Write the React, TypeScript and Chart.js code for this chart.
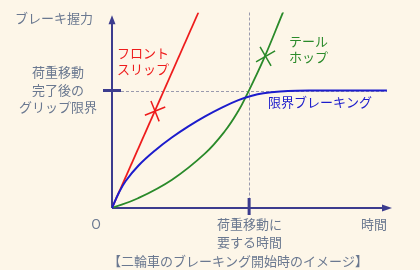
import React, { useEffect, useRef } from "react";
import { Chart, registerables } from "chart.js";

Chart.register(...registerables);

// Time axis: 1 = time required for load transfer. Grip axis: 1 = grip limit after load transfer.
const frontSlipX = [0, 0.63];
const frontSlipY = [0, 1.664];
const tailHopX = [0, 0.19, 0.438, 0.679, 0.825, 0.92, 0.978, 1.102, 1.241, 1.263];
const tailHopY = [0, 0.083, 0.241, 0.465, 0.657, 0.823, 0.951, 1.256, 1.648, 1.712];
const limitX = [0, 0.05, 0.1, 0.192, 0.314, 0.436, 0.557, 0.679, 0.801, 0.922, 1.02, 1.104, 1.226, 1.348, 1.5, 2.005];
const limitY = [0, 0.13, 0.23, 0.36, 0.49, 0.6, 0.695, 0.78, 0.855, 0.918, 0.955, 0.976, 0.992, 0.999, 1.0, 1.0];
const frontMarker = { x: 0.314, y: 0.824 };
const tailMarker = { x: 1.12, y: 1.29 };
const xTickValue = 1;
const yTickValue = 1;
const xMax = 2.042;
const yMax = 1.664;
const yAxisTop = 1.64;

const yAxisTitle = "ブレーキ握力";
const xAxisTitle = "時間";
const originLabel = "O";
const yTickLabel = ["荷重移動", "完了後の", "グリップ限界"];
const xTickLabel = ["荷重移動に", "要する時間"];
const frontLabel = ["フロント", "スリップ"];
const tailLabel = ["テール", "ホップ"];
const limitLabel = "限界ブレーキング";
const title = "【二輪車のブレーキング開始時のイメージ】";

const AXIS = "#3c3c8e";
const LABEL = "#6a7890";
const RED = "#ee1c1c";
const GREEN = "#2a8a2a";
const BLUE = "#1c1ccc";
const BG = "#fdf6e8";
const FONT = "13px 'Noto Sans CJK JP', 'Noto Sans', sans-serif";

const toPts = (xs: number[], ys: number[]) => xs.map((x, i) => ({ x, y: ys[i] }));

const decorPlugin = {
  id: "decor",
  beforeDraw(chart: any) {
    const { ctx, width, height } = chart;
    ctx.save();
    ctx.fillStyle = BG;
    ctx.fillRect(0, 0, width, height);
    ctx.restore();
  },
  beforeDatasetsDraw(chart: any) {
    const { ctx, scales } = chart;
    const xs = scales.x;
    const ys = scales.y;
    const x0 = xs.getPixelForValue(0);
    const y0 = ys.getPixelForValue(0);
    const xt = xs.getPixelForValue(xTickValue);
    const yt = ys.getPixelForValue(yTickValue);
    const xEnd = xs.getPixelForValue(xMax);
    const yEnd = ys.getPixelForValue(yAxisTop);
    ctx.save();
    // dashed guides
    ctx.strokeStyle = "#9a9aae";
    ctx.lineWidth = 1;
    ctx.setLineDash([3, 2]);
    ctx.beginPath();
    ctx.moveTo(x0 + 9, Math.round(yt) + 0.5);
    ctx.lineTo(xs.getPixelForValue(limitX[limitX.length - 1]), Math.round(yt) + 0.5);
    ctx.moveTo(Math.round(xt) + 0.5, ys.getPixelForValue(yMax));
    ctx.lineTo(Math.round(xt) + 0.5, y0 - 9);
    ctx.stroke();
    ctx.setLineDash([]);
    // axes
    ctx.strokeStyle = AXIS;
    ctx.fillStyle = AXIS;
    ctx.lineWidth = 2;
    ctx.beginPath();
    ctx.moveTo(x0, y0);
    ctx.lineTo(x0, yEnd + 8);
    ctx.moveTo(x0, y0);
    ctx.lineTo(xEnd - 8, y0);
    ctx.stroke();
    ctx.beginPath();
    ctx.moveTo(x0, yEnd);
    ctx.lineTo(x0 - 3.5, yEnd + 9);
    ctx.lineTo(x0 + 3.5, yEnd + 9);
    ctx.closePath();
    ctx.fill();
    ctx.beginPath();
    ctx.moveTo(xEnd, y0);
    ctx.lineTo(xEnd - 10, y0 - 3.5);
    ctx.lineTo(xEnd - 10, y0 + 3.5);
    ctx.closePath();
    ctx.fill();
    // ticks
    ctx.lineWidth = 3;
    ctx.beginPath();
    ctx.moveTo(x0 - 9, yt);
    ctx.lineTo(x0 + 9, yt);
    ctx.moveTo(xt, y0 - 10);
    ctx.lineTo(xt, y0 + 7);
    ctx.stroke();
    ctx.restore();
  },
  afterDraw(chart: any) {
    const { ctx, scales } = chart;
    const xs = scales.x;
    const ys = scales.y;
    const x0 = xs.getPixelForValue(0);
    const y0 = ys.getPixelForValue(0);
    const xt = xs.getPixelForValue(xTickValue);
    const yt = ys.getPixelForValue(yTickValue);
    ctx.save();
    ctx.font = FONT;
    ctx.textBaseline = "middle";
    ctx.fillStyle = LABEL;
    ctx.textAlign = "left";
    ctx.fillText(yAxisTitle, 15, 18);
    ctx.textAlign = "center";
    yTickLabel.forEach((t, i) => ctx.fillText(t, x0 - 54, yt - 18 + i * 17.5));
    ctx.fillText(originLabel, x0 - 16, y0 + 16);
    ctx.textAlign = "left";
    xTickLabel.forEach((t, i) => ctx.fillText(t, xt - 32, y0 + 16 + i * 18));
    ctx.fillText(xAxisTitle, 361, y0 + 16);
    ctx.textAlign = "center";
    ctx.fillText(title, 238, 261);
    ctx.textAlign = "left";
    ctx.fillStyle = RED;
    frontLabel.forEach((t, i) => ctx.fillText(t, 117, 53 + i * 16));
    ctx.fillStyle = GREEN;
    tailLabel.forEach((t, i) => ctx.fillText(t, 289, 41 + i * 16));
    ctx.fillStyle = BLUE;
    ctx.fillText(limitLabel, 268, 102);
    ctx.restore();
  },
};

export default function App() {
  const ref = useRef<HTMLCanvasElement>(null);
  useEffect(() => {
    if (!ref.current) return;
    const chart = new Chart(ref.current, {
      type: "scatter",
      data: {
        datasets: [
          {
            label: "限界ブレーキング",
            data: toPts(limitX, limitY),
            showLine: true,
            borderColor: BLUE,
            borderWidth: 2,
            pointRadius: 0,
            tension: 0.4,
          },
          {
            label: "テールホップ",
            data: toPts(tailHopX, tailHopY),
            showLine: true,
            borderColor: GREEN,
            borderWidth: 1.8,
            pointRadius: 0,
            tension: 0.4,
          },
          {
            label: "フロントスリップ",
            data: toPts(frontSlipX, frontSlipY),
            showLine: true,
            borderColor: RED,
            borderWidth: 1.8,
            pointRadius: 0,
          },
          {
            label: "front marker",
            data: [frontMarker],
            pointStyle: "cross",
            rotation: -22,
            radius: 11,
            borderColor: RED,
            borderWidth: 1.5,
            backgroundColor: RED,
          },
          {
            label: "tail marker",
            data: [tailMarker],
            pointStyle: "cross",
            rotation: -30,
            radius: 11,
            borderColor: GREEN,
            borderWidth: 1.5,
            backgroundColor: GREEN,
          },
        ] as any,
      },
      options: {
        animation: false,
        responsive: false,
        events: [],
        layout: { padding: { left: 112, right: 28, top: 0, bottom: 62 } },
        plugins: { legend: { display: false }, tooltip: { enabled: false } },
        scales: {
          x: { type: "linear", min: 0, max: xMax, display: false },
          y: { type: "linear", min: 0, max: yMax, display: false },
        },
      },
      plugins: [decorPlugin],
    });
    return () => chart.destroy();
  }, []);
  return (
    <div style={{ position: "fixed", left: 0, top: 0, width: 420, height: 270, background: BG }}>
      <canvas ref={ref} width={420} height={270} style={{ width: 420, height: 270 }} />
    </div>
  );
}
